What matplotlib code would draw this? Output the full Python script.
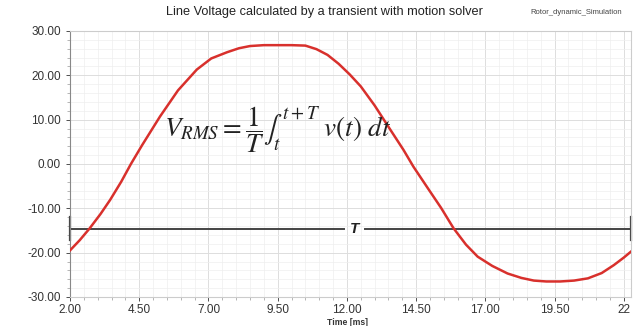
import matplotlib
matplotlib.use("Agg")
import matplotlib.pyplot as plt
from matplotlib.ticker import MultipleLocator

# values
time_ms = [2.0, 2.35, 2.7, 3.1, 3.45, 3.85, 4.2, 4.6, 5.25, 5.9, 6.58, 7.1,
           7.67, 8.1, 8.5, 9.0, 9.5, 10.0, 10.5, 10.9, 11.3, 11.7, 12.1, 12.5,
           13.0, 13.57, 14.04, 14.4, 15.0, 15.4, 15.85, 16.3, 16.72, 17.25,
           17.8, 18.3, 18.75, 19.2, 19.7, 20.2, 20.7, 21.2, 21.64, 22.0, 22.25]
voltage = [-19.5, -17.2, -14.6, -11.3, -8.1, -4.0, 0.0, 4.2, 10.7, 16.6, 21.3, 23.8,
           25.2, 26.1, 26.6, 26.8, 26.8, 26.8, 26.7, 25.9, 24.6, 22.6, 20.2, 17.5,
           13.2, 7.7, 3.2, -0.6, -6.2, -9.9, -14.5, -18.2, -20.9, -23.0,
           -24.7, -25.7, -26.3, -26.5, -26.5, -26.3, -25.8, -24.6, -22.8, -21.1, -19.8]
x_ticks = [2.0, 4.5, 7.0, 9.5, 12.0, 14.5, 17.0, 19.5, 22.0]
x_labels = ["2.00", "4.50", "7.00", "9.50", "12.00", "14.50", "17.00", "19.50", "22"]
y_ticks = [-30, -20, -10, 0, 10, 20, 30]
period_level = -14.6
period_start, period_end = 2.0, 22.25


def main():
    plt.rcParams['mathtext.fontset'] = 'stix'
    plt.rcParams['font.family'] = ['Liberation Sans', 'DejaVu Sans']
    fig = plt.figure(figsize=(6.38, 3.26), dpi=100)
    ax = fig.add_axes([0.1097, 0.089, 0.879, 0.816])

    ax.plot(time_ms, voltage, color="#d8302c", lw=1.8, zorder=3, solid_joinstyle="round")

    # period marker
    ax.plot([period_start, 11.9], [period_level] * 2, color="#444444", lw=1.4, zorder=2)
    ax.plot([12.65, period_end], [period_level] * 2, color="#444444", lw=1.4, zorder=2)
    for x in (period_start, period_end):
        ax.plot([x, x], [-12.0, -17.2], color="#444444", lw=1.6, zorder=2, clip_on=False)
    ax.text(12.27, period_level, "T", fontsize=11, fontstyle="italic", fontweight="bold",
            ha="center", va="center", color="#222222")

    ax.text(9.5, 7.8, r"$V_{RMS} = \dfrac{1}{T}\int_{t}^{t+T}\ v(t)\ dt$",
            fontsize=19.5, ha="center", va="center", color="#222222")

    ax.set_xlim(period_start, period_end)
    ax.set_ylim(-30, 30)
    ax.set_xticks(x_ticks)
    ax.set_xticklabels(x_labels)
    ax.set_yticks(y_ticks)
    ax.set_yticklabels(["%.2f" % v for v in y_ticks])
    ax.xaxis.set_minor_locator(MultipleLocator(0.5))
    ax.yaxis.set_minor_locator(MultipleLocator(2))
    ax.tick_params(labelsize=8.5, colors="#333333", length=3, width=0.6)
    ax.tick_params(axis="x", pad=2)
    ax.tick_params(which="minor", length=2, width=0.5, color="#999999")
    ax.grid(True, which="major", color="#dddddd", lw=0.7)
    ax.grid(True, which="minor", color="#eeeeee", lw=0.5)
    for side in ("top", "right", "bottom"):
        ax.spines[side].set_color("#cccccc")
    ax.spines["left"].set_color("#888888")

    fig.text(0.545, 0.012, "Time [ms]", fontsize=6.2, fontweight="bold",
             ha="center", va="center", color="#333333")
    fig.text(0.509, 0.962, "Line Voltage calculated by a transient with motion solver",
             fontsize=9.2, ha="center", va="center", color="#222222")
    fig.text(0.903, 0.962, "Rotor_dynamic_Simulation", fontsize=5.5,
             ha="center", va="center", color="#444444")

    fig.savefig("out.png", dpi=100)


if __name__ == '__main__':
    main()
